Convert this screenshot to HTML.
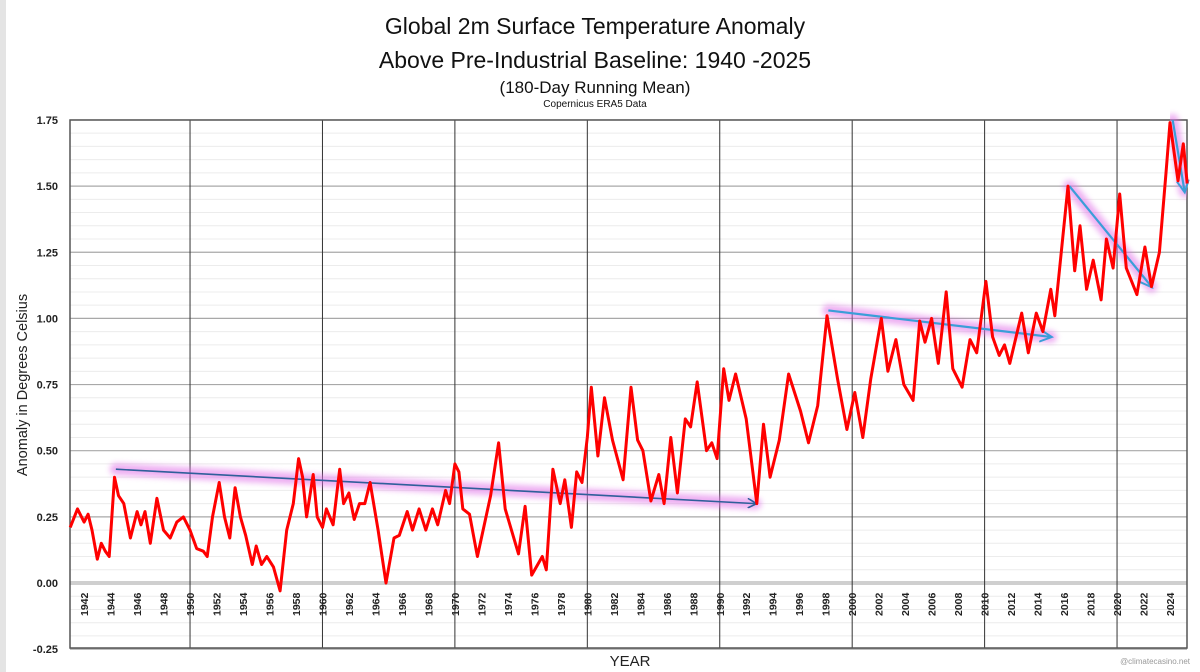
<!DOCTYPE html>
<html><head><meta charset="utf-8"><style>
html,body{margin:0;padding:0;background:#fff;}
svg{display:block;font-family:"Liberation Sans",Calibri,sans-serif;}
</style></head><body>
<svg id="chart" width="1200" height="672" viewBox="0 0 1200 672" xmlns="http://www.w3.org/2000/svg">
<rect x="0" y="0" width="1200" height="672" fill="#fff"/>
<rect x="0" y="0" width="6" height="672" fill="#e4e4e4"/>
<text x="595" y="34" font-size="23" text-anchor="middle" fill="#111">Global 2m Surface Temperature Anomaly</text>
<text x="595" y="68" font-size="23" text-anchor="middle" fill="#111">Above Pre-Industrial Baseline: 1940 -2025</text>
<text x="595" y="93" font-size="17" text-anchor="middle" fill="#111">(180-Day Running Mean)</text>
<text x="595" y="107" font-size="10" text-anchor="middle" fill="#111">Copernicus ERA5 Data</text>
<text transform="translate(27,385) rotate(-90)" font-size="14.5" text-anchor="middle" fill="#222">Anomaly in Degrees Celsius</text>
<text x="630" y="666" font-size="15" text-anchor="middle" fill="#222">YEAR</text>
<text x="1190" y="664" font-size="8" text-anchor="end" fill="#999">@climatecasino.net</text>
<g id="grid"></g>
<g id="axes"></g>
<g id="arrows"></g>
<g id="series"></g>
</svg>
<script>
const yTicks = [-0.25,0,0.25,0.5,0.75,1.0,1.25,1.5,1.75];
const yTickLabels = ["-0.25","0.00","0.25","0.50","0.75","1.00","1.25","1.50","1.75"];
const decadeLines = [1950,1960,1970,1980,1990,2000,2010,2020];
const yearLabels = [1942,1944,1946,1948,1950,1952,1954,1956,1958,1960,1962,1964,1966,1968,1970,1972,1974,1976,1978,1980,1982,1984,1986,1988,1990,1992,1994,1996,1998,2000,2002,2004,2006,2008,2010,2012,2014,2016,2018,2020,2022,2024];
const years = [1940.95,1941.5,1942,1942.3,1942.6,1943,1943.3,1943.6,1943.9,1944.3,1944.6,1945,1945.5,1946,1946.3,1946.6,1947,1947.5,1948,1948.5,1949,1949.5,1950,1950.5,1951,1951.3,1951.7,1952.2,1952.6,1953,1953.4,1953.8,1954.2,1954.7,1955,1955.4,1955.8,1956.3,1956.8,1957.3,1957.8,1958.2,1958.5,1958.8,1959.3,1959.6,1960,1960.3,1960.8,1961.3,1961.6,1962,1962.4,1962.8,1963.2,1963.6,1964.2,1964.8,1965.4,1965.8,1966.4,1966.8,1967.3,1967.8,1968.3,1968.7,1969.3,1969.6,1970,1970.3,1970.6,1971.1,1971.7,1972.7,1973.3,1973.8,1974.8,1975.3,1975.8,1976.6,1976.9,1977.4,1977.95,1978.3,1978.8,1979.2,1979.6,1980,1980.3,1980.8,1981.3,1981.9,1982.7,1983.3,1983.8,1984.2,1984.8,1985.4,1985.8,1986.3,1986.8,1987.4,1987.8,1988.3,1989.0,1989.4,1989.8,1990.3,1990.7,1991.2,1992.0,1992.8,1993.3,1993.8,1994.5,1995.2,1996.1,1996.7,1997.4,1998.1,1998.9,1999.6,2000.2,2000.8,2001.4,2002.2,2002.7,2003.3,2003.9,2004.6,2005.1,2005.5,2006.0,2006.5,2007.1,2007.6,2008.3,2008.9,2009.4,2010.1,2010.6,2011.1,2011.5,2011.9,2012.8,2013.3,2013.9,2014.4,2015.0,2015.3,2016.3,2016.8,2017.2,2017.7,2018.2,2018.8,2019.2,2019.7,2020.2,2020.7,2021.5,2022.1,2022.6,2023.2,2023.7,2024.0,2024.6,2025.0,2025.3];
const anomalies = [0.21,0.28,0.23,0.26,0.2,0.09,0.15,0.12,0.1,0.40,0.33,0.3,0.17,0.27,0.22,0.27,0.15,0.32,0.2,0.17,0.23,0.25,0.2,0.13,0.12,0.1,0.25,0.38,0.25,0.17,0.36,0.25,0.18,0.07,0.14,0.07,0.1,0.06,-0.03,0.2,0.3,0.47,0.4,0.25,0.41,0.25,0.21,0.28,0.22,0.43,0.3,0.34,0.24,0.3,0.3,0.38,0.2,0.0,0.17,0.18,0.27,0.2,0.28,0.2,0.28,0.22,0.35,0.3,0.45,0.42,0.28,0.26,0.10,0.33,0.53,0.28,0.11,0.29,0.03,0.10,0.05,0.43,0.30,0.39,0.21,0.42,0.38,0.55,0.74,0.48,0.70,0.54,0.39,0.74,0.54,0.50,0.31,0.41,0.30,0.55,0.34,0.62,0.59,0.76,0.50,0.53,0.47,0.81,0.69,0.79,0.62,0.30,0.60,0.40,0.54,0.79,0.65,0.53,0.67,1.01,0.77,0.58,0.72,0.55,0.77,1.0,0.8,0.92,0.75,0.69,0.99,0.91,1.00,0.83,1.10,0.81,0.74,0.92,0.87,1.14,0.93,0.86,0.90,0.83,1.02,0.87,1.02,0.95,1.11,1.01,1.50,1.18,1.35,1.11,1.22,1.07,1.30,1.19,1.47,1.19,1.09,1.27,1.12,1.25,1.55,1.74,1.52,1.66,1.51];
const arrowStartYears = [1944.4,1998.2,2016.4,2024.2];
const arrowStartVals = [0.43,1.03,1.50,1.75];
const arrowEndYears = [1992.7,2015.0,2022.6,2025.1];
const arrowEndVals = [0.30,0.93,1.12,1.48];

const NS = "http://www.w3.org/2000/svg";
const L = 70, R = 1187, T = 120, B = 648;
const X = yr => 57.6 + (yr - 1940) * 13.243;
const Y = v => 583 - v * 264.6;
function mk(tag, attrs, parent){const e=document.createElementNS(NS,tag);for(const k in attrs)e.setAttribute(k,attrs[k]);parent.appendChild(e);return e;}
const grid=document.getElementById('grid'), axes=document.getElementById('axes'), arrows=document.getElementById('arrows'), series=document.getElementById('series');

for(let i=0;i<=40;i++){
  const v=-0.25+i*0.05; const y=Y(v);
  const major=Math.abs((v/0.25)-Math.round(v/0.25))<1e-6;
  const ln=mk('line',{x1:L,x2:R,y1:y,y2:y,stroke:major?'#a8a8a8':'#ececec','stroke-width':major?1.2:1},grid);
  
  
}
const zl=mk('line',{x1:L,x2:R,y1:Y(0),y2:Y(0),stroke:'#cfcfcf','stroke-width':4},grid);


decadeLines.forEach(yr=>{
  const ln=mk('line',{x1:X(yr),x2:X(yr),y1:T,y2:B,stroke:'#333','stroke-width':1},grid);
  
  
});
const fr=mk('rect',{x:L,y:T,width:R-L,height:B-T,fill:'none',stroke:'#555','stroke-width':1.5},axes);


yTicks.forEach((v,i)=>{
  const t=mk('text',{x:58,y:Y(v)+4,'font-size':11,'font-weight':'bold','text-anchor':'end',fill:'#222'},axes);
  t.textContent=yTickLabels[i];
  
  
});
yearLabels.forEach(yr=>{
  const x=X(yr);
  const t=mk('text',{transform:`translate(${x+4},616) rotate(-90)`,'font-size':10.5,'font-weight':'bold','text-anchor':'start',fill:'#222'},axes);
  t.textContent=yr;
  
  
});
const defs=mk('defs',{},arrows);
const f=mk('filter',{id:'glow',x:'-20%',y:'-200%',width:'140%',height:'500%'},defs);
mk('feGaussianBlur',{stdDeviation:3},f);
const m1=mk('marker',{id:'ah1',markerWidth:10,markerHeight:10,refX:8,refY:5,orient:'auto',markerUnits:'userSpaceOnUse'},defs);
mk('path',{d:'M0,0 L9,5 L0,10',fill:'none',stroke:'#2f5f9a','stroke-width':1.6},m1);
const m2=mk('marker',{id:'ah2',markerWidth:14,markerHeight:14,refX:11,refY:7,orient:'auto',markerUnits:'userSpaceOnUse'},defs);
mk('path',{d:'M0,1 L12,7 L0,13',fill:'none',stroke:'#3a9ed8','stroke-width':2},m2);
arrowStartYears.forEach((sy,i)=>{
  const x1=X(sy),y1=Y(arrowStartVals[i]),x2=X(arrowEndYears[i]),y2=Y(arrowEndVals[i]);
  const g=mk('line',{x1,y1,x2,y2,stroke:'#e070e8','stroke-width':12,'stroke-linecap':'round',opacity:0.55,filter:'url(#glow)'},arrows);
  
  
  const a=mk('line',{x1,y1,x2,y2,stroke:i===0?'#2f5f9a':'#3a9ed8','stroke-width':i===0?1.6:2.2,'marker-end':i===0?'url(#ah1)':'url(#ah2)'},arrows);
  
  
});
const pts=years.map((yr,i)=>X(yr).toFixed(1)+','+Y(anomalies[i]).toFixed(1)).join(' ');
const pl=mk('polyline',{points:pts,fill:'none',stroke:'#ff0000','stroke-width':3,'stroke-linejoin':'round'},series);


</script>
</body></html>
